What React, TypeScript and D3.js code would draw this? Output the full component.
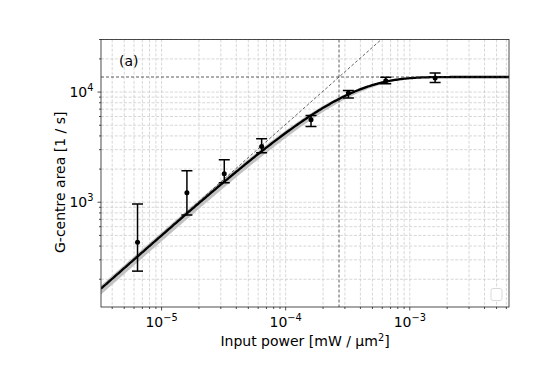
import * as d3 from "d3";
import { useEffect, useRef } from "react";

// measured points (input power in mW/um^2, G-centre area in 1/s)
const powers = [6.4e-6, 1.6e-5, 3.2e-5, 6.4e-5, 1.6e-4, 3.2e-4, 6.4e-4, 1.6e-3];
const areas = [433, 1220, 1810, 3200, 5600, 9800, 12700, 13400];
const errLow = [237, 767, 1500, 2810, 4860, 8820, 11900, 12200];
const errHigh = [966, 1930, 2430, 3760, 6130, 10350, 13600, 14900];

// saturation fit parameters
const satArea = 1.37e4;
const satPower = 2.69e-4;
const satPowerBand = [2.52e-4, 3.05e-4];

const xTicks = [1e-5, 1e-4, 1e-3];
const xTickExp = ["−5", "−4", "−3"];
const yTicks = [1e3, 1e4];
const yTickExp = ["3", "4"];

const xDomain = [3.25e-6, 6.3e-3];
const yDomain = [112, 30000];

function minorTicks(lo: number, hi: number) {
  const out: number[] = [];
  for (let e = Math.floor(Math.log10(lo)); e <= Math.ceil(Math.log10(hi)); e++) {
    for (let m = 2; m <= 9; m++) {
      const v = m * Math.pow(10, e);
      if (v >= lo && v <= hi) out.push(v);
    }
  }
  return out;
}

function SaturationChart() {
  const ref = useRef<SVGSVGElement>(null);
  const margin = { top: 39.5, left: 101 };
  const width = 408;
  const height = 267.5;
  const font = "DejaVu Sans, sans-serif";

  useEffect(() => {
    const root = d3.select(ref.current);
    root.selectAll("*").remove();
    const svg = root
      .append("g")
      .attr("transform", `translate(${margin.left},${margin.top})`);

    const x = d3.scaleLog().domain(xDomain).range([0, width]);
    const y = d3.scaleLog().domain(yDomain).range([height, 0]);

    const xMinor = minorTicks(xDomain[0], xDomain[1]);
    const yMinor = minorTicks(yDomain[0], yDomain[1]);

    // grid, major and minor
    const grid = svg.append("g").attr("stroke", "#cdcdcd").attr("stroke-width", 0.8)
      .attr("stroke-dasharray", "3,1.6");
    grid.selectAll(".gx").data([...xTicks, ...xMinor]).join("line")
      .attr("x1", (d) => x(d)).attr("x2", (d) => x(d))
      .attr("y1", 0).attr("y2", height);
    grid.selectAll(".gy").data([...yTicks, ...yMinor]).join("line")
      .attr("y1", (d) => y(d)).attr("y2", (d) => y(d))
      .attr("x1", 0).attr("x2", width);

    svg.append("clipPath").attr("id", "plot-clip")
      .append("rect").attr("width", width).attr("height", height);
    const plot = svg.append("g").attr("clip-path", "url(#plot-clip)");

    const fit = (p: number, ps: number) => satArea * (1 - Math.exp(-p / ps));
    const samples = d3.range(0, 301).map((i) =>
      Math.pow(10, Math.log10(xDomain[0]) + (i / 300) * Math.log10(xDomain[1] / xDomain[0]))
    );

    // confidence band
    plot.append("path")
      .datum(samples)
      .attr("fill", "#c2c2c2")
      .attr("d", d3.area<number>()
        .x((d) => x(d))
        .y0((d) => y(fit(d, satPowerBand[1])))
        .y1((d) => y(fit(d, satPowerBand[0]))));

    // fit curve
    plot.append("path")
      .datum(samples)
      .attr("fill", "none")
      .attr("stroke", "black")
      .attr("stroke-width", 2.3)
      .attr("d", d3.line<number>().x((d) => x(d)).y((d) => y(fit(d, satPower))));

    // guide lines: linear asymptote, saturation level, saturation power
    const dash = "3,2";
    plot.append("line")
      .attr("x1", x(xDomain[0])).attr("y1", y(satArea * xDomain[0] / satPower))
      .attr("x2", x(xDomain[1])).attr("y2", y(satArea * xDomain[1] / satPower))
      .attr("stroke", "#222").attr("stroke-width", 0.7).attr("stroke-dasharray", dash);
    plot.append("line")
      .attr("x1", 0).attr("x2", width).attr("y1", y(satArea)).attr("y2", y(satArea))
      .attr("stroke", "#333").attr("stroke-width", 0.8).attr("stroke-dasharray", dash);
    plot.append("line")
      .attr("x1", x(satPower)).attr("x2", x(satPower)).attr("y1", 0).attr("y2", height)
      .attr("stroke", "#333").attr("stroke-width", 0.8).attr("stroke-dasharray", dash);

    // error bars
    const pts = powers.map((p, i) => ({ p, a: areas[i], lo: errLow[i], hi: errHigh[i] }));
    const eb = plot.append("g").attr("stroke", "black").attr("stroke-width", 1.5);
    eb.selectAll(".v").data(pts).join("line")
      .attr("x1", (d) => x(d.p)).attr("x2", (d) => x(d.p))
      .attr("y1", (d) => y(d.lo)).attr("y2", (d) => y(d.hi));
    eb.selectAll(".t").data(pts).join("line")
      .attr("x1", (d) => x(d.p) - 5.5).attr("x2", (d) => x(d.p) + 5.5)
      .attr("y1", (d) => y(d.hi)).attr("y2", (d) => y(d.hi));
    eb.selectAll(".b").data(pts).join("line")
      .attr("x1", (d) => x(d.p) - 5.5).attr("x2", (d) => x(d.p) + 5.5)
      .attr("y1", (d) => y(d.lo)).attr("y2", (d) => y(d.lo));
    plot.append("g").selectAll("circle").data(pts).join("circle")
      .attr("cx", (d) => x(d.p)).attr("cy", (d) => y(d.a)).attr("r", 2.5)
      .attr("fill", "black");

    // empty legend frame
    svg.append("rect")
      .attr("x", width - 18).attr("y", height - 18.5).attr("width", 11).attr("height", 12)
      .attr("rx", 2).attr("fill", "white").attr("stroke", "#d0d0d0").attr("stroke-width", 0.8);

    // ticks
    const tk = svg.append("g").attr("stroke", "#222").attr("stroke-width", 0.8);
    tk.selectAll(".xM").data(xTicks).join("line")
      .attr("x1", (d) => x(d)).attr("x2", (d) => x(d)).attr("y1", height).attr("y2", height + 3.5);
    tk.selectAll(".xm").data(xMinor).join("line")
      .attr("x1", (d) => x(d)).attr("x2", (d) => x(d)).attr("y1", height).attr("y2", height + 2);
    tk.selectAll(".yM").data(yTicks).join("line")
      .attr("y1", (d) => y(d)).attr("y2", (d) => y(d)).attr("x1", 0).attr("x2", -3.5);
    tk.selectAll(".ym").data(yMinor).join("line")
      .attr("y1", (d) => y(d)).attr("y2", (d) => y(d)).attr("x1", 0).attr("x2", -2);

    // tick labels
    xTicks.forEach((t, i) => {
      const tx = svg.append("text")
        .attr("x", x(t)).attr("y", height + 19.5)
        .attr("text-anchor", "middle").attr("font-family", font).attr("font-size", 14);
      tx.append("tspan").text("10");
      tx.append("tspan").attr("dy", -6).attr("font-size", 9.8).text(xTickExp[i]);
    });
    yTicks.forEach((t, i) => {
      const ty = svg.append("text")
        .attr("x", -7.5).attr("y", y(t) + 5)
        .attr("text-anchor", "end").attr("font-family", font).attr("font-size", 14);
      ty.append("tspan").text("10");
      ty.append("tspan").attr("dy", -6).attr("font-size", 9.8).text(yTickExp[i]);
    });

    // frame
    svg.append("rect").attr("width", width).attr("height", height)
      .attr("fill", "none").attr("stroke", "#222").attr("stroke-width", 0.8);

    // panel tag and axis labels
    svg.append("text").attr("x", 18).attr("y", 26).attr("font-family", font)
      .attr("font-size", 14).text("(a)");

    const xl = svg.append("text").attr("x", width / 2).attr("y", height + 39)
      .attr("text-anchor", "middle").attr("font-family", font).attr("font-size", 14);
    xl.append("tspan").text("Input power [mW / μm");
    xl.append("tspan").attr("dy", -5).attr("font-size", 9.8).text("2");
    xl.append("tspan").attr("dy", 5).text("]");

    svg.append("text")
      .attr("transform", `translate(-36,${height / 2 + 9}) rotate(-90)`)
      .attr("text-anchor", "middle").attr("font-family", font).attr("font-size", 14)
      .text("G-centre area [1 / s]");
  }, []);

  return (
    <svg
      ref={ref}
      width={536}
      height={366}
      style={{ position: "absolute", left: 0, top: 0, background: "white" }}
    />
  );
}

export default function App() {
  return <SaturationChart />;
}
